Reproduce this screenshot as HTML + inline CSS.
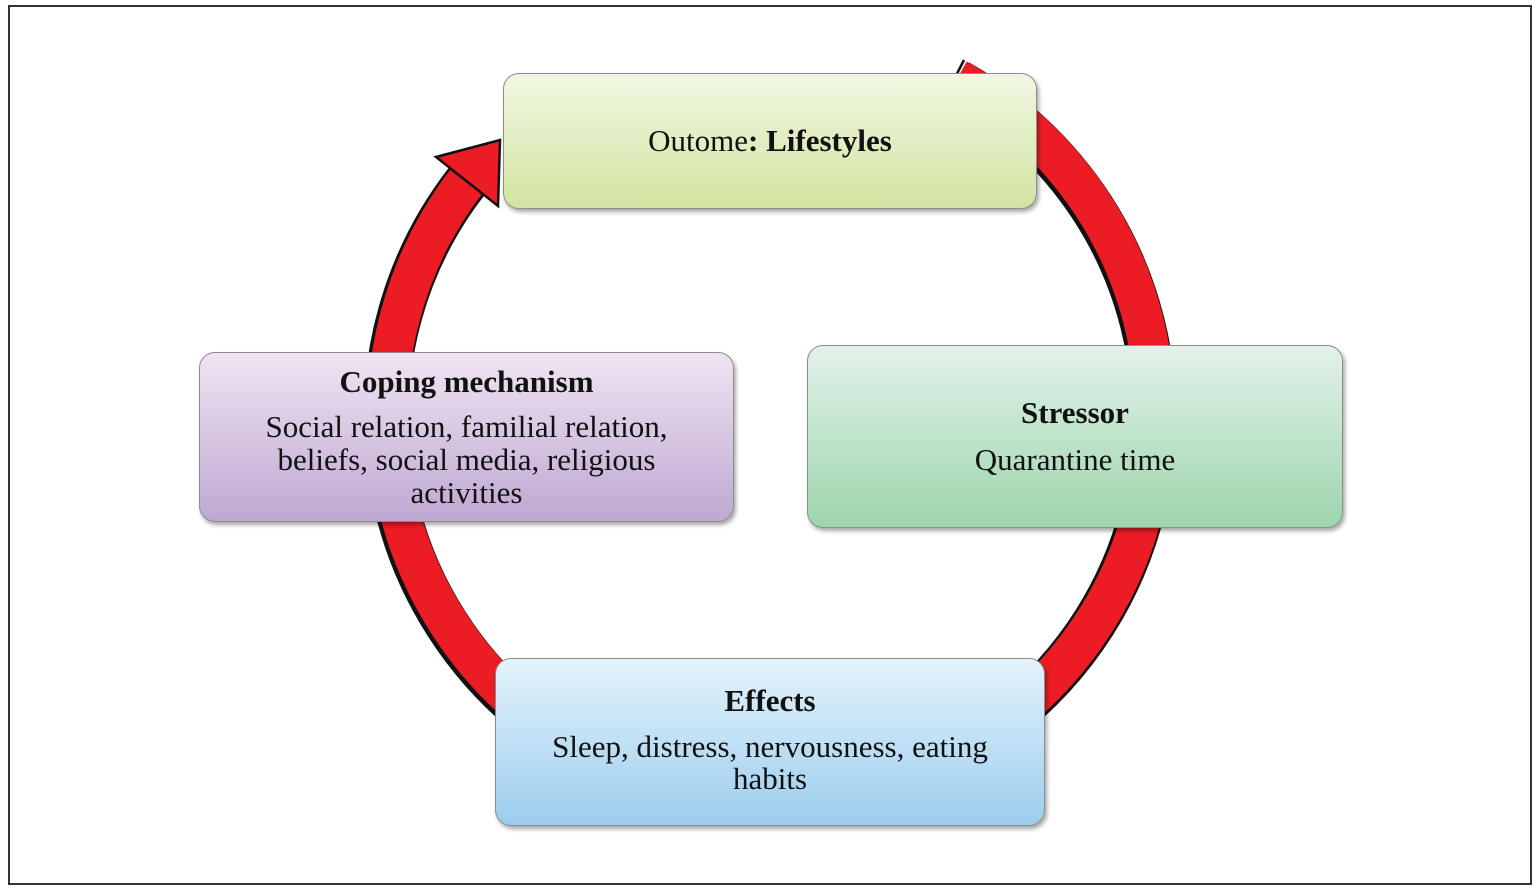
<!DOCTYPE html>
<html><head><meta charset="utf-8"><style>
html,body{margin:0;padding:0;background:#fff;}
body{width:1537px;height:890px;position:relative;overflow:hidden;font-family:"Liberation Serif",serif;color:#111;}
.frame{position:absolute;left:8px;top:5px;width:1520px;height:876px;border:2px solid #333;}
.box{position:absolute;border-radius:16px;border:1.5px solid #8a8f8a;box-shadow:2px 3px 4px rgba(0,0,0,0.35);text-align:center;font-size:31px;line-height:33px;box-sizing:border-box;}
b{font-weight:bold;}
</style></head><body>
<div class="frame"></div>
<svg width="1537" height="890" style="position:absolute;left:0;top:0">
<path d="M958,82 A384,384 0 1 1 467,181" fill="none" stroke="#111" stroke-width="45"/>
<path d="M957,79 A384,384 0 1 1 466,182" fill="none" stroke="#ec1c24" stroke-width="40"/>
<line x1="964" y1="60" x2="944" y2="99" stroke="#111" stroke-width="2.5"/>
<polygon points="436,157 500,140 498,206" fill="#ec1c24" stroke="#111" stroke-width="2.5"/>
</svg>
<div class="box" style="left:503px;top:73px;width:534px;height:136px;background:linear-gradient(#f1f7e3,#d2e4a1);padding-top:50px;">Outome<b>: Lifestyles</b></div>
<div class="box" style="left:199px;top:352px;width:535px;height:170px;background:linear-gradient(#efe4f2,#bfa8d2);padding-top:12px;"><b>Coping mechanism</b><div style="margin-top:12px;line-height:33px;">Social relation, familial relation,<br>beliefs, social media, religious<br>activities</div></div>
<div class="box" style="left:807px;top:345px;width:536px;height:183px;background:linear-gradient(#e3f2ea,#9dd5ad);padding-top:50px;"><b>Stressor</b><div style="margin-top:14px;">Quarantine time</div></div>
<div class="box" style="left:495px;top:658px;width:550px;height:168px;background:linear-gradient(#e4f3fc,#9ccdee);padding-top:25px;"><b>Effects</b><div style="margin-top:14px;line-height:32px;">Sleep, distress, nervousness, eating<br>habits</div></div>
</body></html>
